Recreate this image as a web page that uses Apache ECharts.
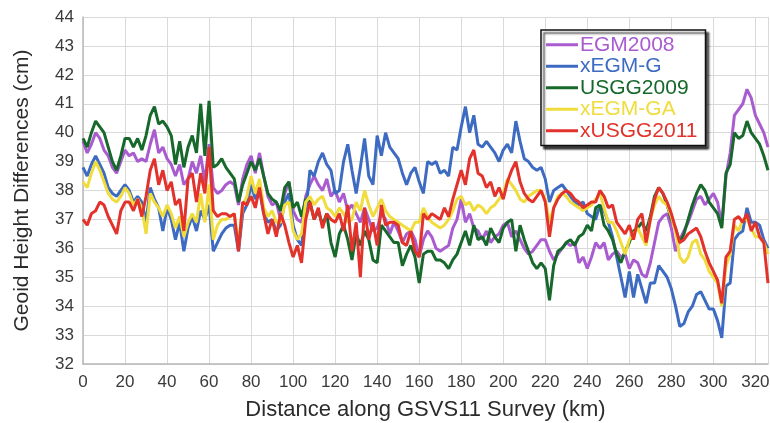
<!DOCTYPE html>
<html>
<head>
<meta charset="utf-8">
<script src="https://cdn.jsdelivr.net/npm/echarts@6/dist/echarts.min.js"></script>
<style>
  html, body { margin: 0; padding: 0; background: #fff; }
  #main { width: 770px; height: 423px; }
</style>
</head>
<body>
<div id="main"></div>
<script>
// distance along the survey (km), one sample every 2 km
var distanceKm = [];
for (var k = 0; k <= 326; k += 2) distanceKm.push(k);

var seriesNames = ['EGM2008', 'xEGM-G', 'USGG2009', 'xEGM-GA', 'xUSGG2011'];
var seriesColors = ['#a95bd0', '#3d6bc2', '#17682b', '#f0dc3c', '#e2322b'];

var egm2008 = [
  39.7, 39.3, 39.6, 40.0, 39.8, 39.4, 39.2, 38.8, 38.6, 39.0,
  39.4, 39.2, 39.3, 39.0, 39.1, 39.0, 39.6, 40.1, 39.3, 39.5,
  39.1, 38.9, 38.5, 38.9, 38.2, 38.4, 39.0, 38.6, 39.2, 38.3,
  39.6, 38.1, 37.9, 38.0, 38.2, 38.3, 38.2, 37.5, 38.4, 38.9,
  39.2, 38.6, 39.3, 38.5, 37.8, 37.5, 37.6, 37.0, 37.9, 38.3,
  37.3, 37.0, 36.9, 37.8, 38.2, 38.5, 38.2, 38.0, 38.4, 37.8,
  38.0, 37.6, 37.9, 37.3, 37.5, 37.2, 36.9, 37.4, 37.0, 36.6,
  36.7, 37.2, 37.0, 36.5, 36.9, 36.6, 36.2, 36.5, 36.6, 36.3,
  35.7, 36.3, 36.6, 36.4, 36.0, 35.9, 36.0, 36.1, 36.7, 37.0,
  37.7, 36.9, 37.2, 36.7, 36.6, 36.3, 36.6, 36.2, 36.4, 36.5,
  36.8, 36.9, 36.4, 36.6, 36.3, 36.0, 35.8, 35.9, 36.1, 36.3,
  36.3, 35.9, 35.6, 35.8, 36.0, 36.2, 36.1, 36.2, 35.5, 35.7,
  35.3, 35.7, 36.2, 36.0, 36.2, 35.6, 35.8, 35.9, 35.7, 35.8,
  35.3, 35.6, 35.5, 35.1, 35.0, 35.5, 36.2, 36.9, 37.1, 37.2,
  36.7, 35.9, 36.3, 36.6, 36.9, 37.3, 37.7, 37.8, 37.5, 37.7,
  37.9, 37.6, 36.8, 38.5, 39.3, 40.6, 40.8, 41.0, 41.5, 41.2,
  40.6, 40.3, 40.0, 39.5
];

var xEgmG = [
  38.8, 38.5, 38.9, 39.2, 38.9, 38.6, 38.1, 37.9, 37.8, 38.0,
  38.2, 38.0, 37.6, 37.8, 37.6, 36.9, 38.1, 37.7, 37.4, 36.6,
  37.4, 37.0, 36.3, 36.9, 35.9, 36.7, 37.1, 36.6, 37.3, 37.0,
  37.5, 35.9, 36.2, 36.5, 36.7, 36.8, 36.8, 35.9, 37.2, 37.5,
  38.2, 37.7, 38.0, 37.2, 36.9, 37.0, 36.6, 36.8, 37.6, 37.9,
  36.8, 36.3, 36.1, 37.2, 38.7, 38.5, 39.0, 39.3, 38.9, 38.7,
  37.9, 38.0, 39.0, 39.6, 38.7, 37.9, 38.8, 39.8, 38.5, 38.2,
  39.9, 39.2, 40.0, 39.5, 39.3, 39.1, 38.6, 38.2, 38.6, 38.8,
  38.3, 37.9, 39.0, 38.9, 39.0, 38.6, 38.7, 38.5, 39.5, 39.4,
  40.2, 40.9, 40.0, 40.6, 39.6, 39.5, 39.7, 39.5, 39.3, 39.0,
  39.4, 39.6, 39.3, 40.4, 39.7, 39.1, 39.0, 38.8, 38.7, 38.8,
  38.4, 37.6, 38.0, 38.1, 38.2, 38.0, 37.8, 37.6, 37.5, 37.6,
  37.2, 37.1, 37.0, 37.5, 37.3, 36.9, 36.4, 35.7, 35.0, 34.3,
  35.2, 34.3, 35.1, 34.6, 34.1, 34.8, 34.8, 35.4, 35.2, 35.0,
  34.6, 34.0, 33.3, 33.4, 33.8, 34.0, 34.4, 34.5, 34.2, 33.9,
  33.9, 33.5, 32.9, 34.7, 34.8, 36.3, 36.5, 36.6, 37.4, 36.9,
  36.9, 36.8, 36.3, 36.0
];

var usgg2009 = [
  39.8, 39.5, 40.0, 40.4, 40.2, 40.0, 39.5, 39.0, 38.7, 39.2,
  39.8, 39.8, 39.5, 39.8, 39.4, 39.9, 40.6, 40.9, 40.3, 40.4,
  40.2, 39.9, 38.9, 39.7, 38.8, 39.5, 39.9, 39.3, 41.0, 39.2,
  41.1, 38.8, 38.9, 39.1, 38.8, 38.6, 38.4, 37.6, 38.2, 38.6,
  39.0, 38.7, 39.1, 38.5, 37.9, 37.7, 37.6, 37.3, 38.1, 38.3,
  37.4, 37.6, 37.1, 37.7, 37.6, 37.0, 37.3, 36.8, 37.2, 36.2,
  35.7, 36.5, 36.8, 36.3, 35.6, 36.5, 36.1, 36.6, 36.3, 35.6,
  35.5, 36.8, 36.6, 36.4, 36.2, 36.2, 35.4, 35.8, 36.1, 35.7,
  34.8, 35.8, 35.9, 35.9, 35.6, 35.6, 35.5, 35.3, 35.6, 35.8,
  36.2, 36.6, 36.1, 36.8, 36.3, 36.4, 36.1, 36.7, 36.4, 36.2,
  36.7, 36.9, 37.0, 35.9, 36.8, 36.3, 35.9, 35.5, 35.3, 35.5,
  35.3, 34.2, 35.4, 35.9, 36.0, 36.2, 36.3, 36.1, 36.4, 36.5,
  36.8, 36.6, 37.4, 37.5, 36.8, 36.6, 36.3, 35.8, 35.5, 35.9,
  36.2, 36.6, 36.7, 36.9, 36.6, 37.1, 37.8, 38.1, 37.9, 37.5,
  37.0, 36.7, 36.2, 36.5, 37.0, 37.5, 37.9, 38.2, 38.0, 37.6,
  37.4, 37.2, 36.7, 38.6, 38.9, 40.0, 39.8, 39.9, 40.4, 40.0,
  39.8, 39.6, 39.2, 38.7
];

var xEgmGA = [
  38.3, 38.1, 38.6, 39.0, 38.7, 38.3, 37.9, 37.7, 37.6, 37.8,
  38.1, 37.9, 37.5, 37.7, 37.4, 36.5, 37.9, 37.6, 37.4, 37.1,
  37.5, 37.2, 36.7, 37.1, 36.4, 36.9, 37.2, 36.9, 37.9, 36.9,
  38.2, 36.3, 36.8, 37.0, 37.0, 37.1, 37.2, 36.1, 37.5, 37.8,
  38.5, 37.9, 38.4, 37.4, 37.1, 37.3, 36.9, 36.9, 37.5, 37.6,
  36.6, 36.3, 36.5, 37.6, 37.8, 37.5, 37.7, 37.8, 37.4, 37.3,
  37.1, 37.4, 37.2, 36.9, 37.0, 37.6, 37.3, 38.0, 37.5, 37.1,
  37.4, 37.7, 37.3, 37.1, 37.0, 36.9, 36.8, 36.7, 36.6, 36.9,
  36.9, 37.4, 37.1, 36.9, 36.8, 36.7, 36.8, 37.0, 37.3, 37.7,
  37.8, 37.5, 37.6, 37.3, 37.5, 37.4, 37.2, 37.4, 37.5, 37.7,
  37.9, 38.4, 38.2, 38.0, 37.7, 37.6, 37.8, 37.9, 38.0, 38.0,
  37.7, 36.9, 37.4, 37.8, 37.9, 37.8, 37.6, 37.5, 37.4, 37.3,
  37.4, 37.5, 37.7, 37.9, 37.4, 36.9, 36.9, 36.6, 36.2, 35.8,
  36.3, 36.5, 36.7, 36.4, 36.1, 37.0, 37.5, 37.8, 37.6, 37.5,
  37.1, 36.6, 35.7, 35.5, 35.7, 36.2, 36.3, 35.8, 35.6, 35.2,
  35.0, 34.8, 34.0, 35.4, 35.8, 36.8, 36.6, 37.0, 37.0, 36.7,
  36.4, 36.4, 36.2, 35.8
];

var xUsgg2011 = [
  37.0, 36.8, 37.2, 37.3, 37.6, 37.5, 37.1, 36.8, 36.5, 37.3,
  37.6, 37.6, 37.3, 37.7, 37.1, 37.8, 38.7, 39.1, 38.2, 38.7,
  38.0, 38.3, 37.5, 37.7, 36.6, 38.4, 38.6, 37.6, 38.6, 37.9,
  39.5, 37.3, 37.1, 37.2, 37.2, 37.1, 37.2, 35.9, 37.6, 37.5,
  37.8, 37.4, 38.1, 37.2, 36.5, 37.0, 36.4, 37.2, 36.8, 36.2,
  35.7, 36.1, 35.5, 37.0, 37.6, 37.0, 37.4, 36.7, 37.2, 37.0,
  36.9, 37.2, 36.6, 37.5, 35.9, 36.9, 35.0, 37.4, 36.3, 36.9,
  36.1, 37.5, 36.8, 36.9, 36.9, 36.8, 36.2, 36.1, 36.6, 35.9,
  35.7, 37.2, 37.0, 37.2, 37.1, 37.0, 37.4, 37.1, 37.7, 38.2,
  38.7, 38.2, 39.1, 39.4, 38.6, 38.5, 38.1, 38.3, 37.8, 38.1,
  37.7, 38.3, 38.7, 39.0, 38.3, 37.9, 37.7, 37.6, 37.8, 38.0,
  37.6, 36.4, 37.4, 37.7, 37.9, 38.0, 37.9, 37.7, 37.6, 37.4,
  37.5, 37.6, 37.6, 38.0, 37.8, 37.4, 37.5, 36.9, 36.7, 36.5,
  36.8, 36.3, 37.0, 37.2, 36.2, 37.0, 37.7, 38.1, 37.9, 37.6,
  37.2, 36.7, 36.2, 36.3, 36.5, 36.6, 36.7, 36.4, 35.9, 35.5,
  35.2, 34.9, 34.1, 35.7, 35.9, 37.0, 37.1, 36.9, 37.2, 36.6,
  36.9, 36.4, 36.2, 34.8
];

var seriesValues = [egm2008, xEgmG, usgg2009, xEgmGA, xUsgg2011];

// pair each value with its distance
function pairs(vals) {
  var out = [];
  for (var i = 0; i < vals.length; i++) out.push([distanceKm[i], vals[i]]);
  return out;
}

var series = [];
var legendData = [];
for (var s = 0; s < seriesNames.length; s++) {
  series.push({
    name: seriesNames[s],
    type: 'line',
    symbol: 'none',
    data: pairs(seriesValues[s]),
    lineStyle: { color: seriesColors[s], width: 3 },
    itemStyle: { color: seriesColors[s] },
    z: 2 + s
  });
  legendData.push({ name: seriesNames[s], textStyle: { color: seriesColors[s] } });
}

var myChart = echarts.init(document.getElementById('main'));

var option = {
  backgroundColor: '#fff',
  animation: false,
  textStyle: { fontFamily: 'Liberation Sans, Arial, sans-serif' },
  grid: { left: 83, top: 17, right: 2, bottom: 59, outerBoundsMode: 'none', containLabel: false },
  legend: {
    orient: 'vertical',
    left: 541,
    top: 30,
    data: legendData,
    icon: 'rect',
    itemWidth: 32,
    itemHeight: 3,
    itemGap: 0,
    padding: [4, 8, 4, 5],
    backgroundColor: '#fff',
    borderColor: '#111',
    borderWidth: 1.5,
    borderRadius: 0,
    shadowColor: 'rgba(0,0,0,0.75)',
    shadowBlur: 2,
    shadowOffsetX: 3,
    shadowOffsetY: 3,
    textStyle: { fontSize: 21, lineHeight: 21.5, padding: [0, 0, 0, -3] }
  },
  xAxis: {
    type: 'value',
    min: 0,
    max: 326,
    interval: 20,
    name: 'Distance along GSVS11 Survey (km)',
    nameLocation: 'middle',
    nameGap: 35,
    nameTextStyle: { fontSize: 22, color: '#2b2b2b' },
    axisLine: { show: true, lineStyle: { color: '#b8b8b8', width: 1.5 } },
    axisTick: { show: false },
    axisLabel: { fontSize: 17, color: '#3a3a3a', margin: 10, showMaxLabel: false },
    splitLine: { show: true, lineStyle: { color: '#d9d9d9', width: 1 } }
  },
  yAxis: {
    type: 'value',
    min: 32,
    max: 44,
    interval: 1,
    name: 'Geoid Height Differences (cm)',
    nameLocation: 'middle',
    nameGap: 50,
    nameTextStyle: { fontSize: 21, color: '#2b2b2b' },
    axisLine: { show: true, lineStyle: { color: '#b8b8b8', width: 1.5 } },
    axisTick: { show: false },
    axisLabel: { fontSize: 17, color: '#3a3a3a', margin: 9 },
    splitLine: { show: true, lineStyle: { color: '#d9d9d9', width: 1 } }
  },
  series: series
};

myChart.setOption(option);
</script>
</body>
</html>
